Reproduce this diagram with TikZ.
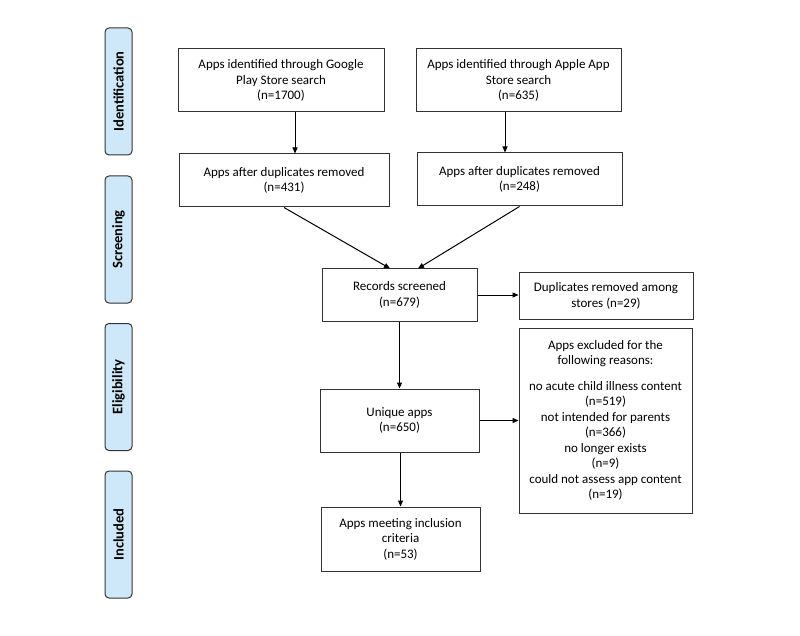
\documentclass[tikz,border=0pt]{standalone}
\usepackage{fontspec}
\setmainfont{Carlito}
\usetikzlibrary{arrows.meta}
\definecolor{barfill}{HTML}{CFE8F9}
\definecolor{lin}{HTML}{333333}
\tikzset{
  box/.style={draw=lin, line width=1pt, fill=white, align=center, inner sep=2pt,
    font=\fontsize{13}{15.5}\selectfont},
  bar/.style={draw=lin, line width=1pt, fill=barfill, rounded corners=4pt,
    minimum width=27pt, minimum height=127pt},
  barlabel/.style={rotate=90, font=\fontsize{14.5}{16}\selectfont\bfseries},
  arr/.style={draw=black, line width=1pt, -{Triangle[length=6pt,width=5pt]}}
}
\begin{document}
\begin{tikzpicture}[x=1pt,y=-1pt]
\useasboundingbox[fill=white] (0,0) rectangle (800,636);
% phase bars
\node[bar] (b1) at (118.5,91.5) {};
\node[barlabel] (l1) at (b1.center) {Identification};
\node[bar] (b2) at (118.5,239.5) {};
\node[barlabel] (l2) at (b2.center) {Screening};
\node[bar] (b3) at (118.5,387) {};
\node[barlabel] (l3) at (b3.center) {Eligibility};
\node[bar] (b4) at (118.5,534.5) {};
\node[barlabel] (l4) at (b4.center) {Included};
% boxes
\node[box, minimum width=206pt, minimum height=63pt] (A) at (281,80.5)
  {Apps identified through Google\\Play Store search\\(n=1700)};
\node[box, minimum width=205pt, minimum height=63pt] (C) at (518.5,80.5)
  {Apps identified through Apple App\\Store search\\(n=635)};
\node[box, minimum width=210pt, minimum height=53pt] (B) at (284,180.5)
  {Apps after duplicates removed\\(n=431)};
\node[box, minimum width=205pt, minimum height=53pt] (D) at (519.5,179.5)
  {Apps after duplicates removed\\(n=248)};
\node[box, minimum width=155pt, minimum height=52pt] (E) at (399.5,295)
  {Records screened\\(n=679)};
\node[box, minimum width=174pt, minimum height=46pt] (F) at (606,296)
  {Duplicates removed among\\stores (n=29)};
\node[box, minimum width=173pt, minimum height=185pt] (G) at (605.5,420.5)
  {Apps excluded for the\\following reasons:\\[10pt]no acute child illness content\\(n=519)\\not intended for parents\\(n=366)\\no longer exists\\(n=9)\\could not assess app content\\(n=19)};
\node[box, minimum width=159pt, minimum height=63pt] (H) at (399.5,420.5)
  {Unique apps\\(n=650)};
\node[box, minimum width=159pt, minimum height=64pt] (I) at (400.5,539)
  {Apps meeting inclusion\\criteria\\(n=53)};
% connectors
\draw[arr] (A.south -| 295,0) -- (B.north -| 295,0);
\draw[arr] (C.south -| 505,0) -- (D.north -| 505,0);
\draw[arr] (B.south) -- (E.north -| 390,0);
\draw[arr] (D.south) -- (E.north -| 418,0);
\draw[arr] (E.east) -- (F.west |- E.east);
\draw[arr] (E.south) -- (H.north);
\draw[arr] (H.east) -- (G.west |- H.east);
\draw[arr] (H.south -| I.north) -- (I.north);
\end{tikzpicture}
\end{document}
